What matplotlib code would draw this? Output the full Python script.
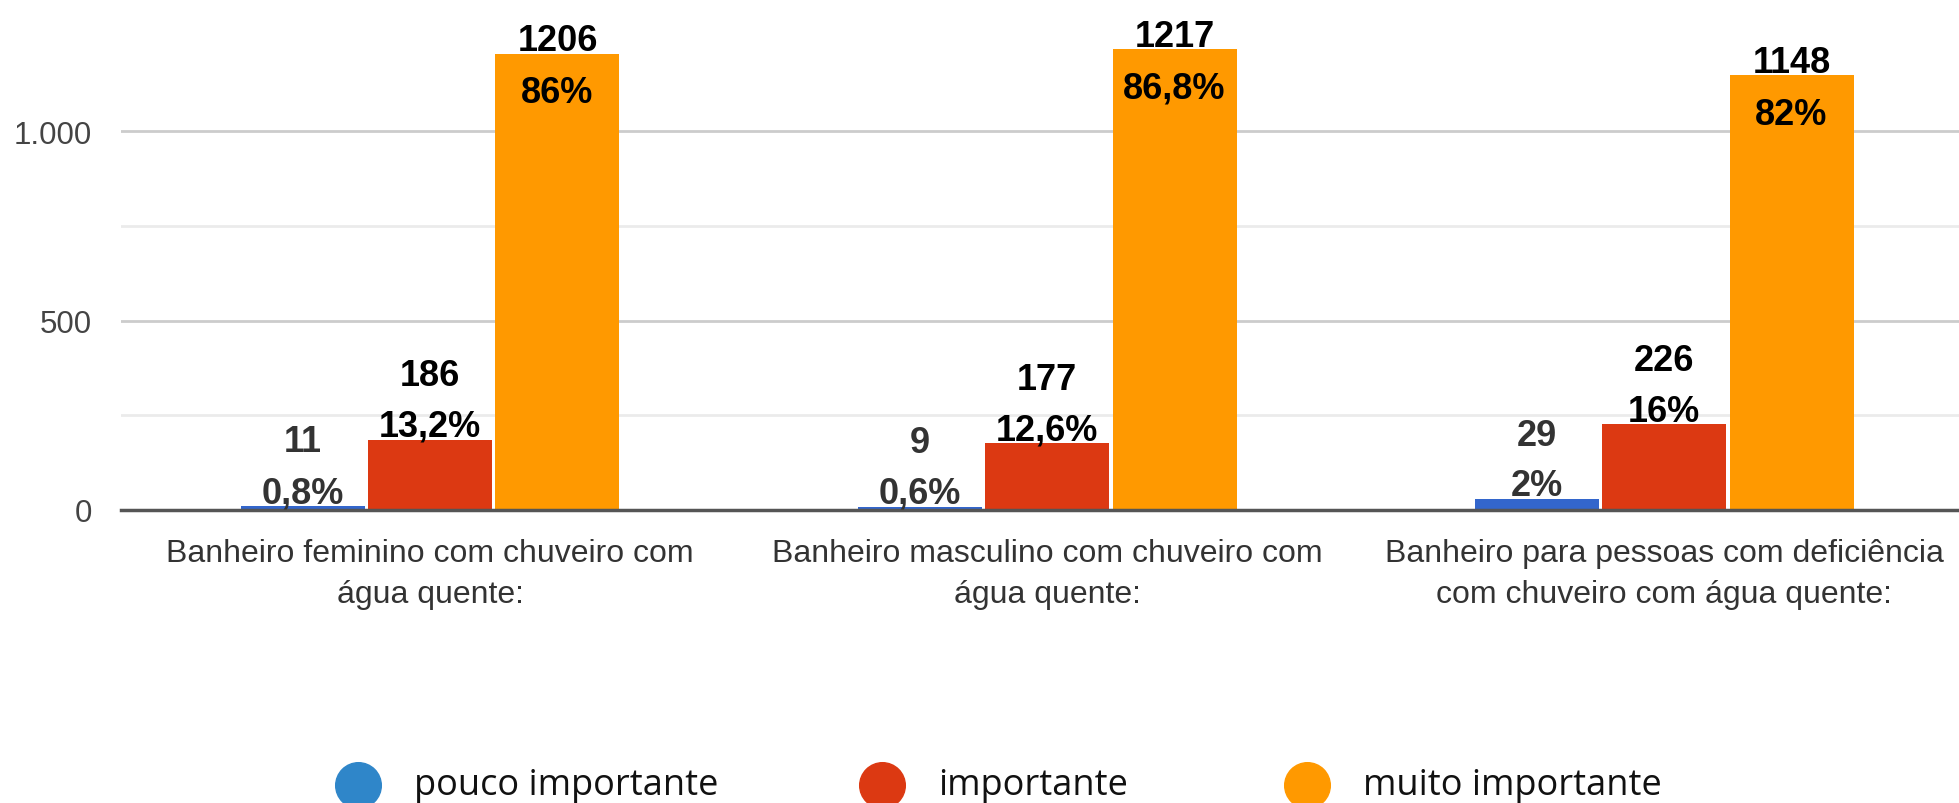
import matplotlib
matplotlib.use("Agg")
import matplotlib.pyplot as plt
import numpy as np
from matplotlib.ticker import FixedLocator

categories = ["Banheiro feminino com chuveiro com\nágua quente:",
              "Banheiro masculino com chuveiro com\nágua quente:",
              "Banheiro para pessoas com deficiência\ncom chuveiro com água quente:"]
series_names = ["pouco importante", "importante", "muito importante"]
pouco = [11, 9, 29]
importante = [186, 177, 226]
muito = [1206, 1217, 1148]
pct_pouco = ["0,8%", "0,6%", "2%"]
pct_importante = ["13,2%", "12,6%", "16%"]
pct_muito = ["86%", "86,8%", "82%"]
ytick_vals = [0, 500, 1000]
ytick_labels = ["0", "500", "1.000"]

bar_colors = ["#3366cc", "#dc3912", "#ff9900"]
legend_colors = ["#2f86c9", "#dc3912", "#ff9900"]
label_colors = ["#333333", "#000000", "#000000"]

W, H = 1959, 804
fig = plt.figure(figsize=(W / 100, H / 100), dpi=100)
ax = fig.add_axes([121 / W, (H - 511) / H, 1 - 121 / W, 511 / H])

x = np.arange(len(categories))
step = 0.2066
width = 0.201
values = [pouco, importante, muito]
pcts = [pct_pouco, pct_importante, pct_muito]

for i, (vals, pc) in enumerate(zip(values, pcts)):
    xs = x + (i - 1) * step
    bars = ax.bar(xs, vals, width=width, color=bar_colors[i], zorder=2)
    for b, v, p in zip(bars, vals, pc):
        cx = b.get_x() + b.get_width() / 2
        if i == 2:
            # tall bar: count above, percent inside
            off_v, off_p = 9.5, -28
        else:
            off_v, off_p = 46, 9.5
        ax.annotate(str(v), (cx, v), xytext=(0, off_v), textcoords="offset points",
                    ha="center", va="center", fontsize=26, fontweight="bold",
                    family="Liberation Sans", color=label_colors[i], zorder=4)
        ax.annotate(p, (cx, v), xytext=(0, off_p), textcoords="offset points",
                    ha="center", va="center", fontsize=26, fontweight="bold",
                    family="Liberation Sans", color=label_colors[i], zorder=4)

ax.set_xlim(-0.5008, 2.478)
ax.set_ylim(0, 1350)
ax.set_yticks(ytick_vals)
ax.set_yticklabels(ytick_labels, fontsize=22.5, family="Liberation Sans", color="#444444")
ax.yaxis.set_minor_locator(FixedLocator([250, 750]))
ax.set_xticks(x)
ax.set_xticklabels(categories, fontsize=23, family="Liberation Sans", color="#333333",
                   linespacing=1.45, va="top")
ax.tick_params(axis="y", which="both", length=0, pad=21)
ax.tick_params(axis="x", length=0, pad=20.5)
ax.grid(axis="y", which="major", color="#cccccc", lw=2)
ax.grid(axis="y", which="minor", color="#ebebeb", lw=2)
ax.set_axisbelow(True)
for s in ax.spines.values():
    s.set_visible(False)
ax.axhline(0, color="#555555", lw=2.5, zorder=3, clip_on=False)

# legend drawn in figure pixel space
lax = fig.add_axes([0, 0, 1, 1])
lax.set_xlim(0, W)
lax.set_ylim(H, 0)
lax.axis("off")
circle_x = [358, 882, 1307]
for cxp, name, col in zip(circle_x, series_names, legend_colors):
    lax.scatter([cxp], [786], s=1080, color=col, clip_on=True)
    lax.text(cxp + 56, 786, name, fontsize=26, family="Open Sans", color="#111111",
             ha="left", va="center")

fig.savefig("out.png", dpi=100)
